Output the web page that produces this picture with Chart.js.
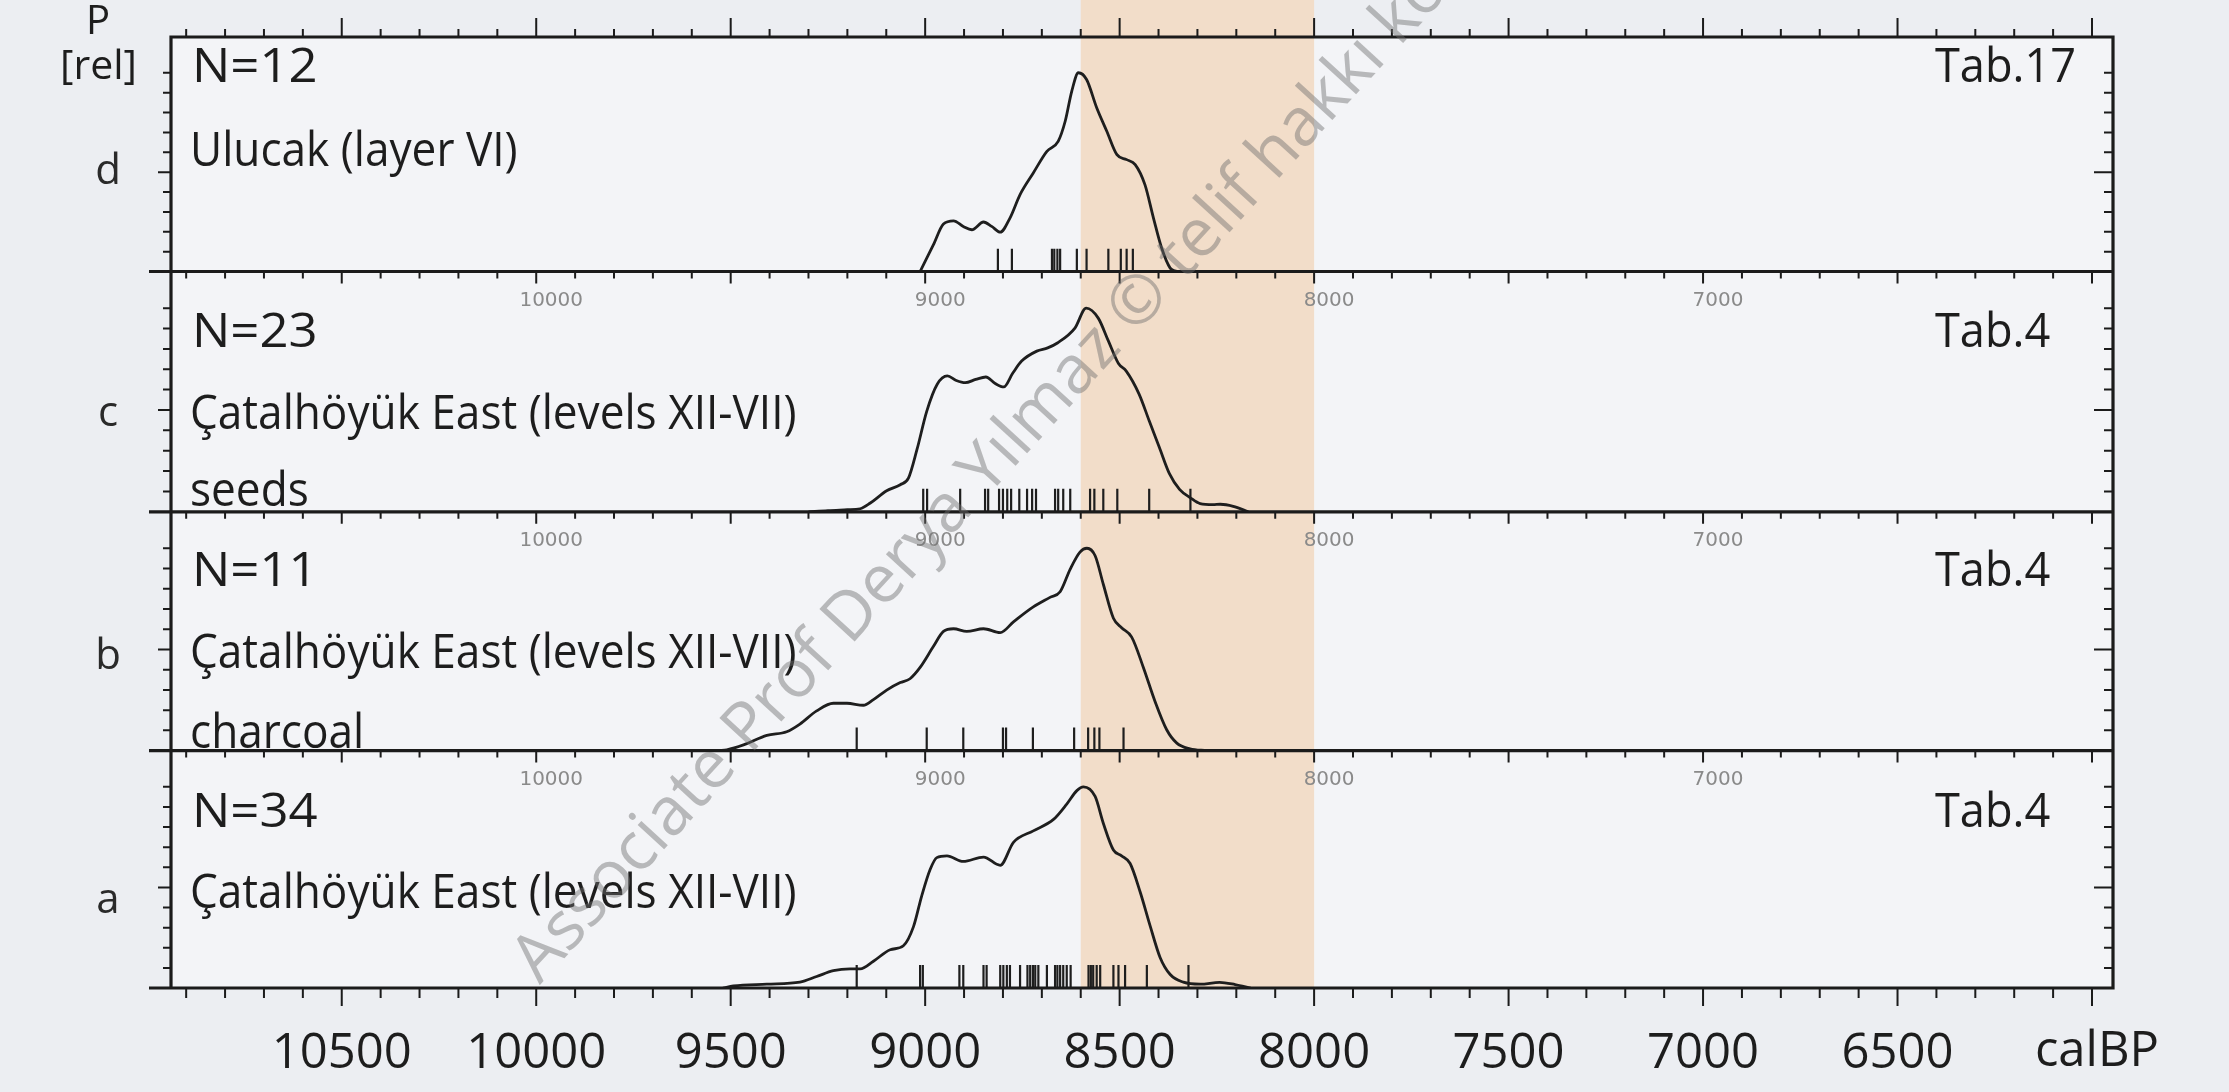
<!DOCTYPE html>
<html>
<head>
<meta charset="utf-8">
<title>Summed calibrated radiocarbon dates</title>
<script src="https://cdn.jsdelivr.net/npm/chart.js@4.4.1/dist/chart.umd.min.js"></script>
<style>
  html, body { margin:0; padding:0; background:#eceef2; }
  #wrap { position:relative; width:2229px; height:1092px; overflow:hidden; background:#eceef2; }
  #chart { position:absolute; left:0; top:0; }
  .lbl { position:absolute; white-space:nowrap; line-height:1; font-family:'Open Sans', sans-serif; color:#1d1d1d; }
  .small { position:absolute; white-space:nowrap; line-height:1; font-family:'DejaVu Sans', sans-serif; color:#8a8a8a; font-size:20px; transform:translate(-50%,-50%); }
  .wm { position:absolute; white-space:nowrap; line-height:1; font-family:'Open Sans', sans-serif; color:rgba(110,110,110,0.45); }
</style>
</head>
<body>
<div id="wrap">
  <canvas id="chart" width="2229" height="1092"></canvas>
</div>
<script>
// ---------------- data ----------------
// x range (cal BP, reversed axis)
const xMin = 5946, xMax = 10939;
const yMax = 1.18;
const bandRange = [8600, 8000];

// bottom axis labels and small inner labels
const bottomTickLabels = [6500, 7000, 7500, 8000, 8500, 9000, 9500, 10000, 10500];
const innerTickLabels = [10000, 9000, 8000, 7000];

// panel d: Ulucak (layer VI)
const dYears = [9013,8979,8953,8927,8902,8880,8850,8829,8807,8782,8756,8722,8687,8658,8640,8623,8606,8585,8559,8533,8507,8482,8460,8435,8413,8392,8370,8353];
const dProb  = [0,0.134,0.239,0.255,0.227,0.21,0.249,0.227,0.198,0.269,0.387,0.496,0.605,0.655,0.756,0.908,1.0,0.966,0.824,0.706,0.588,0.563,0.538,0.437,0.269,0.118,0.017,0];
const dDates = [8813,8777,8674,8668,8660,8653,8610,8585,8529,8497,8482,8466];

// panel c: Catalhoyuk East seeds
const cYears = [9300,9250,9200,9167,9141,9099,9064,9043,9021,8996,8969,8943,8920,8897,8870,8844,8820,8798,8775,8752,8713,8685,8660,8615,8586,8555,8529,8503,8483,8450,8424,8398,8372,8346,8319,8293,8260,8241,8208,8169];
const cProb  = [0,0.006,0.01,0.015,0.043,0.103,0.133,0.165,0.306,0.493,0.626,0.667,0.645,0.634,0.65,0.662,0.63,0.613,0.68,0.74,0.789,0.805,0.829,0.902,1.0,0.951,0.839,0.728,0.691,0.578,0.447,0.317,0.187,0.11,0.07,0.04,0.035,0.037,0.027,0];
const cDates = [9005,8995,8910,8846,8838,8810,8800,8789,8779,8758,8738,8725,8715,8666,8658,8645,8627,8576,8565,8542,8506,8424,8318];

// panel b: Catalhoyuk East charcoal
const bYears = [9530,9510,9467,9407,9356,9322,9279,9236,9201,9159,9133,9099,9064,9039,9013,8979,8953,8927,8893,8850,8807,8773,8722,8679,8653,8627,8602,8584,8563,8542,8516,8495,8469,8439,8409,8379,8353,8319,8276];
const bProb  = [0,0.004,0.028,0.075,0.093,0.131,0.196,0.234,0.234,0.224,0.252,0.299,0.336,0.355,0.411,0.514,0.589,0.602,0.589,0.602,0.583,0.636,0.710,0.757,0.785,0.897,0.981,1.0,0.963,0.822,0.654,0.607,0.561,0.411,0.243,0.103,0.037,0.009,0];
const bDates = [9176,8996,8902,8800,8792,8723,8617,8581,8565,8552,8490];

// panel a: Catalhoyuk East all
const aYears = [9520,9493,9407,9322,9279,9236,9193,9167,9133,9090,9056,9030,9009,8987,8970,8944,8902,8850,8807,8773,8722,8670,8636,8610,8593,8563,8542,8516,8495,8473,8447,8421,8396,8370,8336,8293,8243,8203,8163];
const aProb  = [0,0.01,0.019,0.029,0.057,0.086,0.095,0.095,0.133,0.19,0.21,0.305,0.457,0.59,0.648,0.657,0.629,0.651,0.61,0.724,0.781,0.838,0.914,0.981,1.0,0.952,0.819,0.686,0.657,0.619,0.476,0.305,0.152,0.067,0.029,0.019,0.028,0.017,0];
const aDates = [9176,9013,9006,8912,8902,8850,8842,8807,8799,8790,8782,8756,8737,8730,8723,8717,8709,8687,8666,8660,8653,8645,8636,8626,8580,8574,8568,8559,8550,8516,8503,8486,8430,8323];

// texts
const panelLetters = ['d', 'c', 'b', 'a'];
const panelCounts  = ['N=12', 'N=23', 'N=11', 'N=34'];
const panelSites   = [['Ulucak (layer VI)'], ['Çatalhöyük East (levels XII-VII)', 'seeds'], ['Çatalhöyük East (levels XII-VII)', 'charcoal'], ['Çatalhöyük East (levels XII-VII)']];
const panelRefs    = ['Tab.17', 'Tab.4', 'Tab.4', 'Tab.4'];
const axisUnitText = 'calBP';
const watermarkText = 'Associate Prof Derya Yılmaz © telif hakkı korunmaktadır';

// ---------------- chart ----------------
const panelIds = ['yd', 'yc', 'yb', 'ya'];
const panelHeights = [234.5, 240.3, 238.8, 237.4];   // layout: relative panel heights
const series = [
  { id: 'yd', years: dYears, prob: dProb, dates: dDates },
  { id: 'yc', years: cYears, prob: cProb, dates: cDates },
  { id: 'yb', years: bYears, prob: bProb, dates: bDates },
  { id: 'ya', years: aYears, prob: aProb, dates: aDates }
];
const RUG_Y = 0.057;
const INK = '#1b1b1b';

const datasets = [];
series.forEach(s => {
  datasets.push({
    type: 'line',
    data: s.years.map((t, i) => ({ x: t, y: s.prob[i] })),
    xAxisID: 'x', yAxisID: s.id,
    borderColor: '#1e1e1e', borderWidth: 2.8,
    pointRadius: 0, pointHoverRadius: 0,
    tension: 0.4, cubicInterpolationMode: 'monotone', fill: false
  });
  datasets.push({
    type: 'scatter',
    data: s.dates.map(t => ({ x: t, y: RUG_Y })),
    xAxisID: 'x', yAxisID: s.id,
    pointStyle: 'line', rotation: 90,
    pointRadius: 11.5, pointHoverRadius: 11.5,
    borderColor: '#1e1e1e', borderWidth: 2.2, pointBorderWidth: 2.2, backgroundColor: '#1e1e1e'
  });
});

const framePlugin = {
  id: 'frame',
  beforeDraw(chart) {
    const { ctx, chartArea: ca, scales } = chart;
    ctx.save();
    ctx.fillStyle = '#f3f4f7';
    ctx.fillRect(ca.left, ca.top, ca.right - ca.left, ca.bottom - ca.top);
    const b1 = scales.x.getPixelForValue(bandRange[0]);
    const b2 = scales.x.getPixelForValue(bandRange[1]);
    ctx.fillStyle = '#f2ddc9';
    ctx.fillRect(Math.min(b1, b2), 0, Math.abs(b2 - b1), ca.bottom);
    ctx.restore();
  },
  afterDatasetsDraw(chart) {
    const { ctx, chartArea: ca, scales } = chart;
    const xs = scales.x;
    const topY = scales[panelIds[0]].top;
    const lines = panelIds.map(id => scales[id].getPixelForValue(0));
    ctx.save();
    ctx.strokeStyle = INK;
    ctx.lineWidth = 2;
    ctx.beginPath();
    const tStart = Math.ceil(xMin / 100) * 100, tEnd = Math.floor(xMax / 100) * 100;
    for (let t = tStart; t <= tEnd; t += 100) {
      const px = xs.getPixelForValue(t);
      const major = t % 500 === 0;
      ctx.moveTo(px, topY); ctx.lineTo(px, topY - (major ? 19 : 8));
      lines.forEach((ly, i) => {
        const last = i === lines.length - 1;
        const len = last ? (major ? 18 : 10) : (major ? 12 : 7);
        ctx.moveTo(px, ly); ctx.lineTo(px, ly + len);
      });
    }
    panelIds.forEach(id => {
      const s = scales[id];
      for (let k = 1; k <= 10; k++) {
        const py = s.getPixelForValue(k / 10);
        const major = k === 5;
        ctx.moveTo(ca.left, py); ctx.lineTo(ca.left - (major ? 13 : 8), py);
        ctx.moveTo(ca.right, py); ctx.lineTo(ca.right - (major ? 19 : 9), py);
      }
    });
    ctx.stroke();
    ctx.lineWidth = 3.2;
    ctx.beginPath();
    ctx.moveTo(ca.left - 1.6, topY); ctx.lineTo(ca.right + 1.6, topY);
    lines.forEach(ly => { ctx.moveTo(ca.left - 22, ly); ctx.lineTo(ca.right + 1.6, ly); });
    ctx.moveTo(ca.left, topY); ctx.lineTo(ca.left, ca.bottom);
    ctx.moveTo(ca.right, topY); ctx.lineTo(ca.right, ca.bottom);
    ctx.stroke();
    ctx.restore();
  }
};

function yScale(i) {
  return { type: 'linear', display: false, position: 'left', stack: 'panels',
           stackWeight: panelHeights[i], weight: 4 - i, min: 0, max: yMax };
}

const chart = new Chart(document.getElementById('chart'), {
  data: { datasets: datasets },
  options: {
    responsive: false, animation: false, devicePixelRatio: 1, events: [],
    layout: { padding: { left: 171, right: 116, top: 37, bottom: 0 } },
    plugins: { legend: { display: false }, tooltip: { enabled: false } },
    scales: {
      x: {
        type: 'linear', position: 'bottom', reverse: true, min: xMin, max: xMax,
        grid: { display: false, drawTicks: false }, border: { display: false },
        afterBuildTicks: (axis) => { axis.ticks = bottomTickLabels.map(v => ({ value: v })); },
        afterFit: (axis) => { axis.height = 104; },
        ticks: {
          autoSkip: false, maxRotation: 0, minRotation: 0, padding: 37,
          color: '#1d1d1d', font: { family: 'Open Sans', size: 49 },
          callback: (v) => String(v)
        }
      },
      yd: yScale(0),
      yc: yScale(1),
      yb: yScale(2),
      ya: yScale(3)
    }
  },
  plugins: [framePlugin]
});

// ---------------- text labels ----------------
const wrap = document.getElementById('wrap');
function addLabel(text, x, baseline, size, align, opts) {
  opts = opts || {};
  const el = document.createElement('div');
  el.className = 'lbl';
  el.textContent = text;
  el.style.fontSize = size + 'px';
  el.style.left = x + 'px';
  el.style.top = (baseline - 0.888 * size) + 'px';
  const tx = align === 'center' ? '-50%' : (align === 'right' ? '-100%' : '0');
  el.style.transformOrigin = '0 0';
  el.style.transform = 'translateX(' + tx + ') scaleX(' + (opts.sx || 1) + ')';
  if (opts.color) el.style.color = opts.color;
  wrap.appendChild(el);
  return el;
}

// layout of annotation texts (baselines in px)
const textLayout = [
  { letter: 184, lines: [83, 167], ref: 83 },
  { letter: 426, lines: [348, 430, 507], ref: 348 },
  { letter: 669, lines: [587, 669, 749], ref: 587 },
  { letter: 913, lines: [828, 909], ref: 828 }
];
addLabel('P', 98, 35, 40, 'center');
addLabel('[rel]', 60, 79, 41, 'left');
panelLetters.forEach((L, i) => {
  const lay = textLayout[i];
  addLabel(L, 108, lay.letter, 42, 'center', { color: '#2a2a2a' });
  addLabel(panelCounts[i], 192, lay.lines[0], 48, 'left', { sx: 1.06 });
  panelSites[i].forEach((s, j) => addLabel(s, 190, lay.lines[j + 1], 48, 'left', { sx: 0.92 }));
  addLabel(panelRefs[i], 1935, lay.ref, 48, 'left', { sx: 0.94 });
});
addLabel(axisUnitText, 2097, 1067, 49, 'center');

// small inner axis labels under panel d, c, b lines
const xs = chart.scales.x;
panelIds.slice(0, 3).forEach(id => {
  const ly = chart.scales[id].getPixelForValue(0);
  innerTickLabels.forEach(v => {
    const el = document.createElement('div');
    el.className = 'small';
    el.textContent = String(v);
    el.style.left = (xs.getPixelForValue(v) + 15) + 'px';
    el.style.top = (ly + 27) + 'px';
    wrap.appendChild(el);
  });
});

// watermark
const wm = document.createElement('div');
wm.className = 'wm';
wm.textContent = watermarkText;
const wmSize = 67;
wm.style.fontSize = wmSize + 'px';
wm.style.left = '540px';
wm.style.top = (985 - 0.888 * wmSize) + 'px';
wm.style.transformOrigin = '0 ' + (0.888 * wmSize) + 'px';
wm.style.transform = 'rotate(-47.5deg)';
wrap.appendChild(wm);
</script>
</body>
</html>
